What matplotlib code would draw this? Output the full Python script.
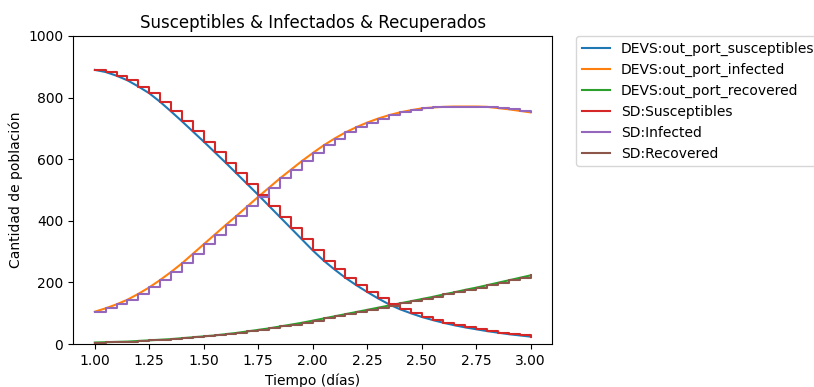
"""SIR comparison: DEVS output ports vs system-dynamics (SD) model."""

import numpy as np
import matplotlib
matplotlib.use("Agg")
import matplotlib.pyplot as plt

# time grid of the SD model (dt = 0.05 days)
tiempo = [1.00, 1.05, 1.10, 1.15, 1.20, 1.25, 1.30, 1.35, 1.40, 1.45,
          1.50, 1.55, 1.60, 1.65, 1.70, 1.75, 1.80, 1.85, 1.90, 1.95,
          2.00, 2.05, 2.10, 2.15, 2.20, 2.25, 2.30, 2.35, 2.40, 2.45,
          2.50, 2.55, 2.60, 2.65, 2.70, 2.75, 2.80, 2.85, 2.90, 2.95, 3.00]

susceptibles = [890, 883, 871, 856, 836, 814, 786, 755, 723, 690,
                657, 623, 589, 554, 519, 484, 448, 412, 376, 340,
                304, 271, 242, 215, 191, 169, 148, 129, 113, 100,
                88, 78, 69, 61, 54, 48, 42, 37, 32, 28, 24]

infectados = [105, 116, 129, 144, 163, 184, 208, 234, 262, 293,
              324, 355, 386, 416, 447, 478, 508, 538, 566, 594,
              620, 645, 667, 687, 704, 719, 732, 743, 752, 759,
              765, 768, 770, 771, 771, 771, 770, 766, 762, 757, 752]

recuperados = [5, 6, 7, 8, 10, 12, 14, 16, 19, 22,
               25, 28, 32, 36, 41, 46, 51, 57, 63, 69,
               76, 83, 90, 97, 104, 111, 118, 125, 132, 139,
               146, 153, 161, 168, 176, 183, 191, 199, 207, 215, 223]

# DEVS outputs agree with the SD values at the sample times
devs_labels = ["DEVS:out_port_susceptibles", "DEVS:out_port_infected", "DEVS:out_port_recovered"]
sd_labels = ["SD:Susceptibles", "SD:Infected", "SD:Recovered"]

t = np.array(tiempo)
series = [np.array(susceptibles), np.array(infectados), np.array(recuperados)]

fig = plt.figure(figsize=(8.14, 3.87), dpi=100)
ax = fig.add_axes([0.0897, 0.111, 0.589, 0.796])

for y, lab in zip(series, devs_labels):
    ax.plot(t, y, label=lab)
for y, lab in zip(series, sd_labels):
    ax.plot(t, y, drawstyle="steps-post", label=lab)

ax.set_ylim(0, 1000)
ax.set_xticks([1.00, 1.25, 1.50, 1.75, 2.00, 2.25, 2.50, 2.75, 3.00])
ax.tick_params(labelsize=10)
ax.set_title("Susceptibles & Infectados & Recuperados", fontsize=12)
ax.set_xlabel("Tiempo (días)", fontsize=10)
ax.set_ylabel("Cantidad de población", fontsize=10)
ax.legend(loc="upper left", bbox_to_anchor=(1.05, 1.0), borderaxespad=0, fontsize=10)

fig.savefig("out.png", dpi=100)
